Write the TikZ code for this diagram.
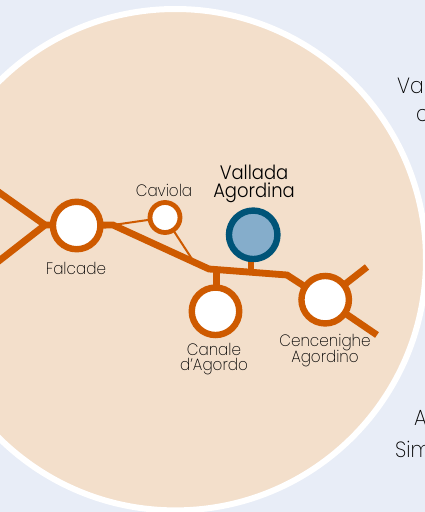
\documentclass[tikz,border=0pt]{standalone}
\usepackage{fontspec}
\setmainfont{Poppins}[UprightFont=* ExtraLight,FakeStretch=0.92]
\newfontfamily\hubfont{Poppins}[UprightFont=* Light,FakeStretch=0.92]
\definecolor{bgc}{HTML}{E8EDF7}
\definecolor{disc}{HTML}{F3DFCB}
\definecolor{rail}{HTML}{CE5A00}
\definecolor{navy}{HTML}{005478}
\definecolor{sky}{HTML}{85ADCB}
\definecolor{ink}{HTML}{000000}
\tikzset{
  stop/.style={circle,draw=rail,fill=white,line width=6.4pt,minimum size=47.5pt,inner sep=0pt,outer sep=0pt},
  smallstop/.style={circle,draw=rail,fill=white,line width=4.8pt,minimum size=30pt,inner sep=0pt,outer sep=0pt},
  hub/.style={circle,draw=navy,fill=sky,line width=6.4pt,minimum size=48.5pt,inner sep=0pt},
  railline/.style={draw=rail,line width=6.8pt,line join=miter},
  spur/.style={draw=rail,line width=2pt},
  lbl/.style={text=ink,font=\fontsize{16.5}{16.5}\selectfont,inner sep=0pt,align=center},
  hublbl/.style={text=black,font=\fontsize{19.5}{19.5}\selectfont\hubfont,inner sep=0pt},
  sidelbl/.style={text=ink,font=\fontsize{22}{22}\selectfont,inner sep=0pt,anchor=west}
}
\begin{document}
\begin{tikzpicture}[x=1pt,y=-1pt]
\useasboundingbox (0,0) rectangle (425,512);
\fill[bgc] (0,0) rectangle (425,512);
\fill[disc,draw=white,line width=6pt] (175.3,259.7) circle (250.7);
\coordinate (w1) at (-5,189.5);
\coordinate (w2) at (-5,264);
\coordinate (wj) at (45,225);
\coordinate (e1) at (113,225);
\coordinate (e2) at (209,269);
\coordinate (e3) at (287,275);
\coordinate (r1) at (367,267);
\coordinate (r2) at (377,335);
\coordinate (vj) at (251,272);
\coordinate (cj) at (216.7,270);
\coordinate (sj) at (192,259);
\node[stop] (falcade) at (76.7,225.5) {};
\node[smallstop] (caviola) at (165,217.5) {};
\node[stop] (canale) at (215.5,311.3) {};
\node[stop] (cencenighe) at (325.2,299.7) {};
\node[hub] (vallada) at (253.2,234.8) {};
\draw[railline] (w1) -- (wj) -- (w2);
\draw[railline] (wj) -- (falcade);
\draw[railline] (falcade) -- (e1) -- (e2) -- (e3) -- (cencenighe);
\draw[railline] (cencenighe) -- (r1);
\draw[railline] (cencenighe) -- (r2);
\draw[railline] (canale.north -| cj) -- (cj);
\draw[railline] (vallada.south -| vj) -- (vj);
\draw[spur] (e1) -- (caviola);
\draw[spur] (caviola) -- (sj);
\node[lbl] (lf) at (76,268) {Falcade};
\node[lbl] (lc) at (164,190) {Caviola};
\node[hublbl] (lv1) at (254,172) {Vallada};
\node[hublbl] (lv2) at (254,193) {Agordina};
\node[lbl] (la1) at (214,349.5) {Canale};
\node[lbl] (la2) at (214,366.5) {d’Agordo};
\node[lbl] (lg1) at (325,343) {Cencenighe};
\node[lbl] (lg2) at (325,359) {Agordino};
\node[sidelbl] (t1) at (397,85) {Val};
\node[sidelbl] (t2) at (416,116) {c};
\node[sidelbl] (t3) at (414,418) {A};
\node[sidelbl] (t4) at (395,449) {Sim};
\end{tikzpicture}
\end{document}
